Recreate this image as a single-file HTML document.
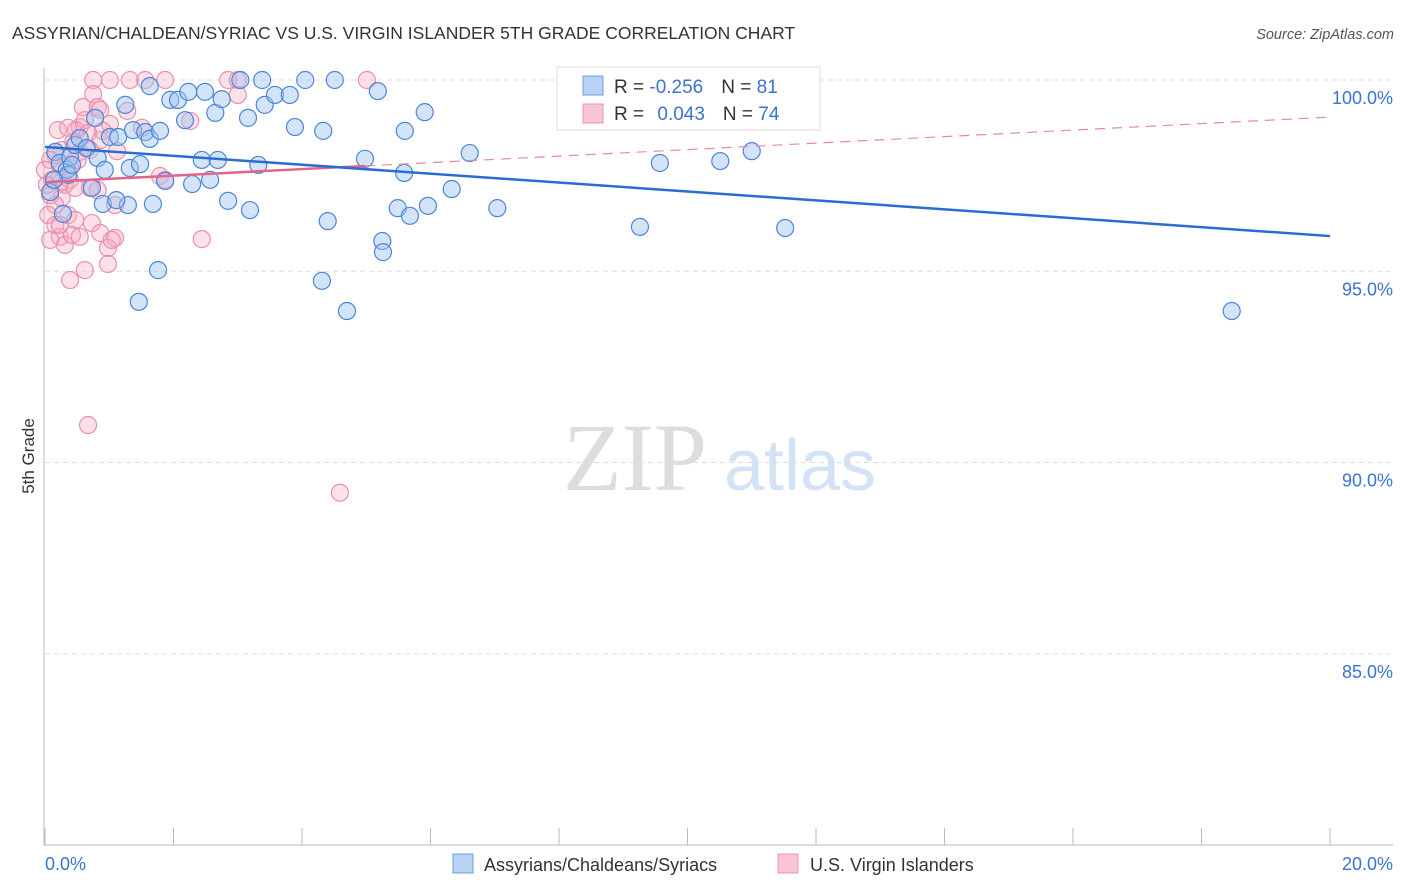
<!DOCTYPE html>
<html><head><meta charset="utf-8"><style>
body{margin:0;background:#fff;font-family:"Liberation Sans",sans-serif}
#wrap{position:relative;width:1406px;height:892px;overflow:hidden}
</style></head><body>
<div id="wrap">
<svg id="svg" width="1406" height="892" xmlns="http://www.w3.org/2000/svg">
<text x="12" y="39" font-size="17.5" fill="#333">ASSYRIAN/CHALDEAN/SYRIAC VS U.S. VIRGIN ISLANDER 5TH GRADE CORRELATION CHART</text>
<text x="1394" y="39" font-size="14.5" fill="#555" font-style="italic" text-anchor="end">Source: ZipAtlas.com</text>
<text transform="translate(34,456) rotate(-90)" font-size="17" fill="#333" text-anchor="middle">5th Grade</text>
<g><text x="635" y="490" font-size="96" fill="#ddd" font-family="Liberation Serif,serif" text-anchor="middle">ZIP</text><text x="800" y="490" font-size="72" fill="#d3e3f5" text-anchor="middle">atlas</text></g>
<g id="grid"></g><g id="axes"></g><g id="pink"></g><g id="blue"></g><g id="lines"></g>
<g>
<rect x="557" y="67" width="263" height="63" fill="#fff" stroke="#ddd"/>
<rect x="583" y="76" width="20" height="19" fill="#b9d2f3" stroke="#6d9fe0"/>
<rect x="583" y="104" width="20" height="19" fill="#f9c5d3" stroke="#ec94ae"/>
<text x="614" y="93" font-size="19" fill="#333">R = <tspan fill="#3a74d0">-0.256</tspan><tspan dx="18">N = </tspan><tspan fill="#3a74d0">81</tspan></text>
<text x="614" y="120" font-size="19" fill="#333">R = <tspan fill="#3a74d0" dx="8">0.043</tspan><tspan dx="18">N = </tspan><tspan fill="#3a74d0">74</tspan></text>
</g>
<g>
<rect x="453" y="854" width="20" height="19" fill="#b9d2f3" stroke="#6d9fe0"/>
<text x="484" y="871" font-size="18" fill="#333">Assyrians/Chaldeans/Syriacs</text>
<rect x="778" y="854" width="20" height="19" fill="#f9c5d3" stroke="#ec94ae"/>
<text x="810" y="871" font-size="18" fill="#333">U.S. Virgin Islanders</text>
</g>
</svg>
</div>
<script>
const blueX=[.16,.23,.34,.39,.47,.54,.65,.78,.82,.93,1.01,1.14,1.25,1.32,1.37,1.48,1.56,1.63,1.63,1.79,1.95,2.07,2.18,2.23,2.49,2.65,2.75,2.44,2.69,3.04,3.38,3.16,3.42,3.58,3.81,4.05,4.51,3.89,4.33,4.98,5.18,5.60,5.91,6.61,8.90,9.57,10.51,11.00,11.52,9.26,18.47,1.87,2.29,2.57,3.32,2.85,3.19,1.68,1.29,.90,1.11,.73,.28,1.46,1.76,4.31,4.70,4.40,5.25,5.26,5.49,5.68,5.96,6.33,7.04,5.59,.36,.42,.08,.14];
const blueY=[98.12,97.83,97.65,97.99,98.30,98.48,98.22,99.01,97.96,97.65,98.51,98.51,99.35,97.70,98.69,97.80,98.64,99.84,98.46,98.67,99.48,99.48,98.95,99.69,99.69,99.14,99.50,97.91,97.91,100,100,99.01,99.35,99.61,99.61,100,100,98.77,98.67,97.94,99.71,98.67,99.16,98.09,99.14,97.83,97.88,98.14,96.13,96.16,93.96,97.36,97.28,97.39,97.78,96.84,96.60,96.76,96.73,96.76,96.86,97.18,96.50,94.20,95.03,94.75,93.96,96.31,95.79,95.50,96.65,96.45,96.71,97.15,96.65,97.57,97.52,97.78,97.07,97.39];
const pinkX=[.75,1.01,1.32,1.56,1.87,2.85,3.00,5.01,.75,.59,.82,3.00,.54,.62,.67,.86,1.01,.86,1.28,2.26,1.51,1.12,.48,.44,.26,.16,.08,.23,.39,.11,.23,.31,.39,.47,.08,.26,.16,.05,.36,.47,.70,.82,1.79,1.87,.73,.86,1.09,.23,.31,.16,.42,.54,.98,1.04,.62,.39,.98,.67,4.59,2.44,1.09,.20,0,.03,.54,.70,.90,.36,.51,.23,.08];
const pinkY=[100,100,100,100,100,100,100,100,99.63,99.29,99.29,99.61,98.77,98.95,98.61,98.43,98.85,99.22,99.19,98.93,98.75,98.14,98.69,98.38,98.17,98.04,97.91,97.75,97.70,97.39,97.31,97.26,97.39,97.18,96.99,96.92,96.73,96.47,96.47,96.34,97.18,97.12,97.49,97.39,96.26,96.00,95.87,95.90,95.69,96.21,95.95,95.90,95.61,95.82,95.03,94.77,95.19,90.98,89.21,95.84,96.73,98.69,97.65,97.26,98.12,98.17,98.67,98.75,97.91,96.21,95.82];
const blueTrend=[98.25,95.92]; // at x=0 and x=20
const pinkTrend=[97.33,99.03]; // at x=0 and x=20
const pinkSolidEnd=4.98;
const yTicks=[100,95,90,85];
const yTickLabels=["100.0%","95.0%","90.0%","85.0%"];
const xTickLabels=["0.0%","20.0%"];
const NS="http://www.w3.org/2000/svg";
const X0=45,X1=1330,Y100=80,Y80=845;
const sx=v=>X0+(v/20)*(X1-X0);
const sy=v=>Y100+(100-v)/20*(Y80-Y100);
function mk(tag,attrs,parent){const e=document.createElementNS(NS,tag);for(const k in attrs)e.setAttribute(k,attrs[k]);document.getElementById(parent).appendChild(e);return e;}
yTicks.forEach((t,i)=>{
 const g=mk('line',{x1:X0,x2:1393,y1:sy(t),y2:sy(t),stroke:'#ddd','stroke-dasharray':'5,4'},'grid');
 
 
 const l=mk('text',{x:1393,y:sy(t)+24,'font-size':18,fill:'#3a74d0','text-anchor':'end'},'grid');
 l.textContent=yTickLabels[i];
 
 
});
const ya=mk('line',{x1:44,x2:44,y1:68,y2:Y80,stroke:'#bbb'},'axes');


const xa=mk('line',{x1:44,x2:1393,y1:Y80,y2:Y80,stroke:'#bbb'},'axes');


for(let i=0;i<=10;i++){
 const t=mk('line',{x1:sx(i*2),x2:sx(i*2),y1:828,y2:Y80,stroke:'#bbb'},'axes');
 
 
}
[[0,'start',45],[20,'end',1393]].forEach((p,i)=>{
 const l=mk('text',{x:p[2],y:870,'font-size':18,fill:'#3a74d0','text-anchor':p[1]},'axes');
 l.textContent=xTickLabels[i];
 
 
});
pinkX.forEach((x,i)=>{
 const c=mk('circle',{cx:sx(x),cy:sy(pinkY[i]),r:8.5,fill:'rgba(246,170,192,0.35)',stroke:'#ec8fab','stroke-width':1.2},'pink');
 
 
});
blueX.forEach((x,i)=>{
 const c=mk('circle',{cx:sx(x),cy:sy(blueY[i]),r:8.5,fill:'rgba(160,196,240,0.45)',stroke:'#4a86d8','stroke-width':1.2},'blue');
 
 
});
const pAt=x=>pinkTrend[0]+(pinkTrend[1]-pinkTrend[0])*x/20;
const pd=mk('line',{x1:sx(pinkSolidEnd),y1:sy(pAt(pinkSolidEnd)),x2:sx(20),y2:sy(pinkTrend[1]),stroke:'#e48aa6','stroke-width':1.2,'stroke-dasharray':'10,7'},'lines');


const ps=mk('line',{x1:sx(0),y1:sy(pinkTrend[0]),x2:sx(pinkSolidEnd),y2:sy(pAt(pinkSolidEnd)),stroke:'#e4638c','stroke-width':2.5},'lines');


const bl=mk('line',{x1:sx(0),y1:sy(blueTrend[0]),x2:sx(20),y2:sy(blueTrend[1]),stroke:'#2a6dd2','stroke-width':2.5},'lines');


</script>
</body></html>
